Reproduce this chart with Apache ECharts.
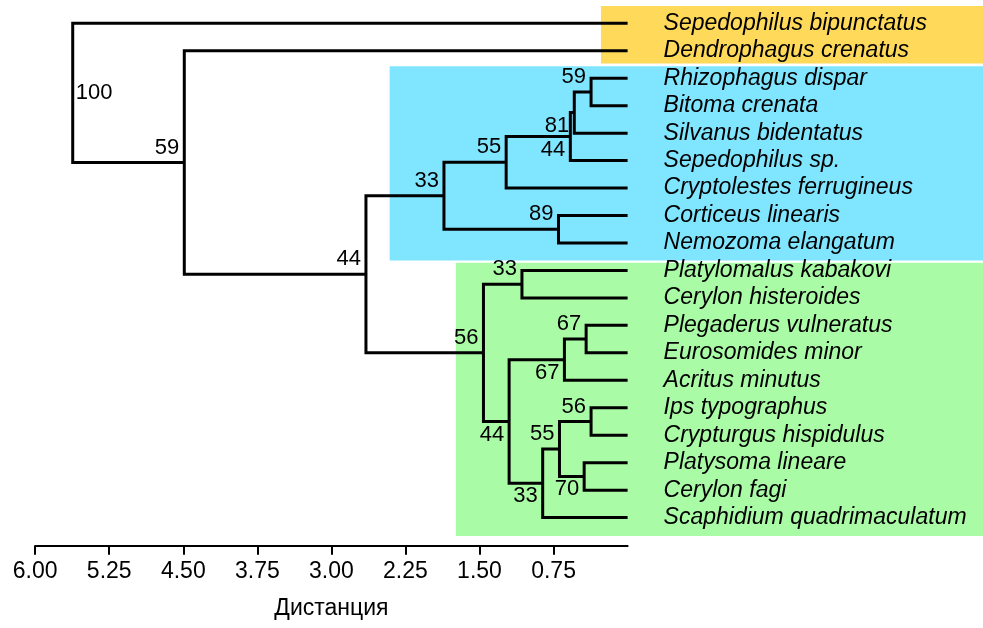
<!DOCTYPE html>
<html>
<head>
<meta charset="utf-8">
<script src="https://cdn.jsdelivr.net/npm/echarts@6/dist/echarts.min.js"></script>
<style>
  html, body { margin: 0; padding: 0; background: #fff; }
  #chart { width: 983px; height: 628px; }
</style>
</head>
<body>
<div id="chart"></div>
<script>
// Leaves of the dendrogram, top to bottom
const taxa = [
  'Sepedophilus bipunctatus', 'Dendrophagus crenatus', 'Rhizophagus dispar',
  'Bitoma crenata', 'Silvanus bidentatus', 'Sepedophilus sp.',
  'Cryptolestes ferrugineus', 'Corticeus linearis', 'Nemozoma elangatum',
  'Platylomalus kabakovi', 'Cerylon histeroides', 'Plegaderus vulneratus',
  'Eurosomides minor', 'Acritus minutus', 'Ips typographus',
  'Crypturgus hispidulus', 'Platysoma lineare', 'Cerylon fagi',
  'Scaphidium quadrimaculatum'
];

// Merge table (hclust convention): negative = leaf -(index+1), positive = earlier merge row (1-based)
const mergeA = [-3, 1, 2, 3, -8, 4, -10, -12, 8, -15, -17, 10, 12, 9, 7, 6, -2, -1];
const mergeB = [-4, -5, -6, -7, -9, 5, -11, -13, -14, -16, -18, 11, -19, 13, 14, 15, 16, 17];
const mergeHeight = [0.37, 0.54, 0.58, 1.23, 0.70, 1.86, 1.07, 0.42, 0.64, 0.37, 0.44, 0.69, 0.86, 1.20, 1.46, 2.65, 4.49, 5.62];
const mergeSupport = [59, 81, 44, 55, 89, 33, 33, 67, 67, 56, 70, 55, 33, 44, 56, 44, 59, 100];

// Distance axis ticks
const tickValues = [6, 5.25, 4.5, 3.75, 3, 2.25, 1.5, 0.75];
const axisTitle = 'Дистанция';

// Shaded clade groups: leaf range and the distance where the shading starts
const cladeFirst = [0, 2, 9];
const cladeLast = [1, 8, 18];
const cladeFrom = [0.27, 2.41, 1.74];

// ---- styling ----
const FONT = "'Liberation Sans', Arial, Helvetica, sans-serif";
const cladeColors = ['#FED95A', '#80E5FF', '#AAFBA6'];
const cladePadTop = [0.63, 0.44, 0.28];
const cladePadBottom = [0.46, 0.64, 0.67];
const labelBelowRows = new Set([2, 3, 9, 11, 13, 14]);
const labelRightRows = new Set([18]);

// Build node positions: leaves sit at height 0, each merge at the mean y of its two children
const nodes = [];
function refPos(ref) {
  return ref < 0 ? { h: 0, y: -ref - 1 } : nodes[ref - 1];
}
mergeA.forEach((a, k) => {
  const A = refPos(a);
  const B = refPos(mergeB[k]);
  nodes.push({ h: mergeHeight[k], y: (A.y + B.y) / 2, a: A, b: B });
});
const treeData = nodes.map((n, k) => [n.a.h, n.a.y, n.b.h, n.b.y, n.h, n.y, mergeSupport[k], k + 1]);

const boxData = cladeFirst.map((f, i) => [cladeFrom[i], f - cladePadTop[i], cladeLast[i] + cladePadBottom[i], i]);

const chart = echarts.init(document.getElementById('chart'), null, { renderer: 'canvas' });

chart.setOption({
  animation: false,
  backgroundColor: '#fff',
  grid: { left: 35.2, right: 355.4, top: 23.3, bottom: 110.4, containLabel: false },
  xAxis: {
    type: 'value',
    inverse: true,
    min: 0,
    max: 6,
    interval: 0.75,
    position: 'bottom',
    offset: 28.1,
    name: axisTitle,
    nameLocation: 'middle',
    nameGap: 51,
    nameTextStyle: { fontSize: 23, color: '#000', fontFamily: FONT },
    axisLine: { show: true, onZero: false, lineStyle: { color: '#000', width: 2 } },
    axisTick: { show: true, length: 9, lineStyle: { color: '#000', width: 2 }, customValues: tickValues },
    axisLabel: {
      show: true, margin: 14, fontSize: 23, color: '#000', fontFamily: FONT,
      customValues: tickValues,
      formatter: v => Number(v).toFixed(2)
    },
    splitLine: { show: false }
  },
  yAxis: [
    { type: 'value', min: 0, max: 18, inverse: true, show: false },
    {
      type: 'category',
      data: taxa,
      inverse: true,
      boundaryGap: false,
      position: 'right',
      z: 10,
      axisLine: { show: false },
      axisTick: { show: false },
      splitLine: { show: false },
      axisLabel: {
        interval: 0, margin: 36, fontSize: 23, fontStyle: 'italic',
        color: '#000', fontFamily: FONT, align: 'left'
      }
    }
  ],
  series: [
    {
      type: 'custom',
      name: 'clades',
      yAxisIndex: 0,
      z: 1,
      silent: true,
      data: boxData,
      renderItem(params, api) {
        const p1 = api.coord([api.value(0), api.value(1)]);
        const p2 = api.coord([api.value(0), api.value(2)]);
        return {
          type: 'rect',
          shape: { x: p1[0], y: p1[1], width: api.getWidth() - p1[0], height: p2[1] - p1[1] },
          style: { fill: cladeColors[api.value(3)] }
        };
      }
    },
    {
      type: 'custom',
      name: 'tree',
      yAxisIndex: 0,
      z: 3,
      silent: true,
      data: treeData,
      renderItem(params, api) {
        const a = api.coord([api.value(0), api.value(1)]);
        const b = api.coord([api.value(2), api.value(3)]);
        const n = api.coord([api.value(4), api.value(5)]);
        const row = api.value(7);
        let tx, ty, align;
        if (labelRightRows.has(row)) { tx = n[0] + 3; ty = n[1]; align = 'left'; }
        else if (labelBelowRows.has(row)) { tx = n[0] - 5; ty = n[1] + 13; align = 'right'; }
        else { tx = n[0] - 5; ty = n[1] - 15; align = 'right'; }
        return {
          type: 'group',
          children: [
            {
              type: 'polyline',
              shape: { points: [a, [n[0], a[1]], [n[0], b[1]], b] },
              style: { stroke: '#000', lineWidth: 3, fill: null, lineJoin: 'miter', lineCap: 'butt' }
            },
            {
              type: 'text',
              style: {
                text: String(api.value(6)), x: tx, y: ty,
                align: align, verticalAlign: 'middle',
                fontSize: 22, fontFamily: FONT, fill: '#000'
              }
            }
          ]
        };
      }
    }
  ]
});
</script>
</body>
</html>
